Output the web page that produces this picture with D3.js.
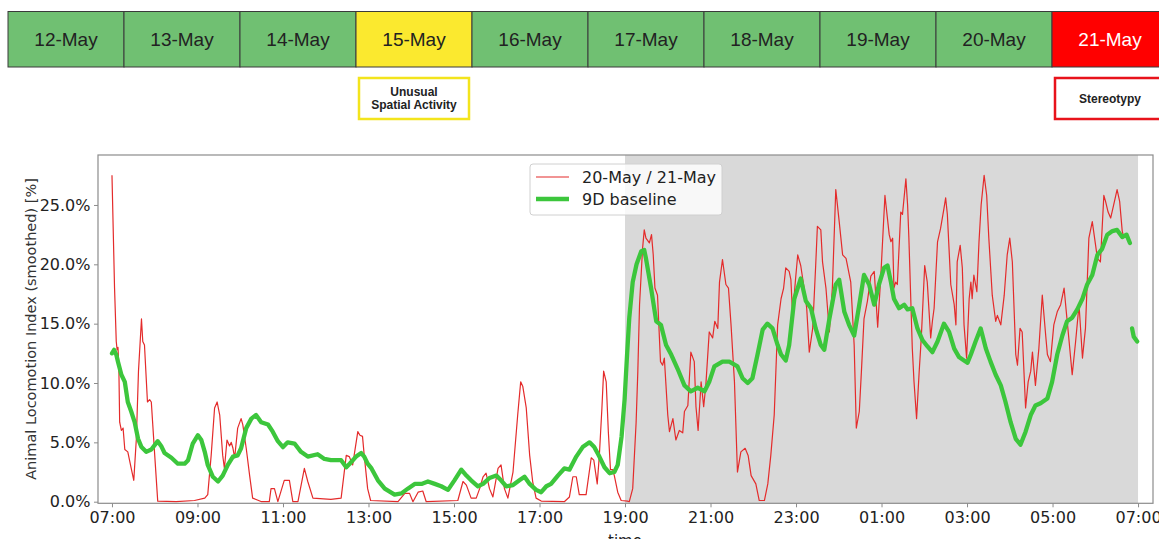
<!DOCTYPE html>
<html>
<head>
<meta charset="utf-8">
<script src="https://cdn.jsdelivr.net/npm/d3@7"></script>
<style>
  body { margin: 0; background: #fff; }
  svg { display: block; }
</style>
</head>
<body>
<svg id="chart" width="1159" height="539"></svg>
<script>
// day strip on top
const days = ["12-May","13-May","14-May","15-May","16-May","17-May","18-May","19-May","20-May","21-May"];
const dayState = ["ok","ok","ok","unusual","ok","ok","ok","ok","ok","alert"];
const stateFill = {ok: "#70c072", unusual: "#fbe92f", alert: "#ff0000"};
const notes = [
  {day: "15-May", lines: ["Unusual", "Spatial Activity"], kind: "unusual"},
  {day: "21-May", lines: ["Stereotypy"], kind: "alert"}
];

// hours after 07:00 on 20-May, value in %
const observed = [
[0.00,27.5],[0.06,18.0],[0.10,13.5],[0.12,12.8],[0.14,13.0],[0.16,11.5],[0.18,6.7],[0.22,6.0],[0.26,6.2],[0.30,4.4],
[0.37,4.2],[0.45,2.8],[0.51,1.8],[0.57,5.3],[0.62,11.0],[0.69,15.4],[0.72,13.5],[0.76,13.2],[0.83,8.4],[0.88,8.6],
[0.92,8.4],[1.00,3.9],[1.07,0.05],[1.50,0.0],[1.93,0.1],[2.17,0.3],[2.24,0.6],[2.32,3.9],[2.40,7.9],[2.46,8.4],
[2.52,7.3],[2.59,3.9],[2.63,2.8],[2.69,5.2],[2.75,4.7],[2.79,5.0],[2.83,4.5],[2.87,3.7],[2.94,6.2],[3.02,7.0],
[3.06,6.5],[3.14,4.5],[3.22,2.2],[3.29,0.3],[3.50,0.0],[3.68,0.0],[3.72,1.1],[3.80,1.1],[3.88,0.0],[4.03,1.8],
[4.15,1.8],[4.23,0.0],[4.35,0.0],[4.50,2.8],[4.58,1.7],[4.70,0.3],[5.12,0.2],[5.36,0.3],[5.48,3.9],[5.55,3.8],
[5.63,3.1],[5.75,5.9],[5.80,5.6],[5.86,5.5],[5.90,3.9],[5.98,1.1],[6.05,0.1],[6.69,0.0],[6.85,0.7],[6.96,0.7],
[7.04,0.0],[7.16,0.8],[7.27,0.9],[7.35,0.0],[8.09,0.1],[8.21,1.7],[8.29,1.4],[8.40,0.3],[8.52,0.3],[8.60,1.1],
[8.68,2.1],[8.75,2.4],[8.83,1.1],[8.91,0.4],[9.03,2.8],[9.10,3.1],[9.18,1.1],[9.26,0.3],[9.38,2.5],[9.49,7.3],
[9.56,10.1],[9.61,9.7],[9.69,7.9],[9.77,3.9],[9.84,1.7],[9.92,0.3],[10.04,0.05],[10.58,0.0],[10.70,0.4],[10.78,2.1],
[10.86,2.1],[10.93,0.6],[11.09,0.6],[11.21,3.7],[11.27,3.5],[11.35,1.5],[11.40,3.9],[11.46,7.9],[11.50,11.0],[11.56,10.1],
[11.61,5.9],[11.66,2.7],[11.71,2.7],[11.75,2.2],[11.83,0.8],[11.91,0.1],[12.06,0.05],[12.10,0.0],[12.18,1.1],[12.26,6.7],
[12.30,11.0],[12.34,16.6],[12.41,21.3],[12.45,22.9],[12.49,22.2],[12.57,21.8],[12.62,22.5],[12.66,20.8],[12.70,18.0],[12.76,17.4],
[12.83,11.8],[12.88,11.5],[12.92,12.1],[13.00,7.3],[13.04,5.9],[13.12,7.0],[13.19,5.2],[13.27,6.0],[13.35,5.8],[13.39,7.6],
[13.47,8.1],[13.54,12.6],[13.62,11.8],[13.66,8.0],[13.71,6.0],[13.78,10.1],[13.84,8.0],[13.89,9.8],[13.97,14.3],[14.05,13.8],
[14.10,15.2],[14.17,14.6],[14.21,18.5],[14.28,20.4],[14.36,18.3],[14.42,18.0],[14.48,14.9],[14.56,10.1],[14.63,2.5],[14.71,4.2],
[14.81,4.5],[14.88,3.9],[14.95,2.2],[15.06,1.5],[15.14,0.1],[15.26,0.1],[15.34,1.5],[15.41,3.9],[15.49,7.3],[15.57,14.9],
[15.65,17.1],[15.71,18.0],[15.76,19.7],[15.84,19.4],[15.88,18.7],[15.92,15.7],[15.99,18.8],[16.04,20.8],[16.11,19.9],[16.19,18.0],
[16.25,16.3],[16.31,12.6],[16.39,14.6],[16.46,19.9],[16.50,23.2],[16.58,22.9],[16.62,20.2],[16.70,18.0],[16.78,14.3],[16.85,18.0],
[16.93,26.3],[17.01,23.6],[17.09,20.8],[17.17,20.5],[17.28,18.5],[17.36,13.2],[17.41,6.2],[17.48,7.6],[17.53,11.0],[17.59,15.4],
[17.67,16.9],[17.75,19.0],[17.83,19.4],[17.91,14.7],[17.98,18.8],[18.08,25.8],[18.18,22.5],[18.22,21.9],[18.26,22.2],[18.29,18.0],
[18.33,18.5],[18.37,18.3],[18.45,24.4],[18.49,24.2],[18.57,27.2],[18.61,25.0],[18.64,22.2],[18.72,12.9],[18.76,10.1],[18.82,7.0],
[18.88,10.9],[18.93,13.8],[19.01,19.9],[19.07,18.5],[19.15,13.8],[19.19,15.2],[19.23,16.3],[19.31,21.9],[19.38,23.0],[19.46,24.7],
[19.50,25.6],[19.54,24.2],[19.62,18.3],[19.70,16.6],[19.74,14.9],[19.77,20.2],[19.84,21.6],[19.89,19.7],[19.93,14.9],[19.99,12.1],
[20.05,17.1],[20.09,18.5],[20.12,17.1],[20.16,19.1],[20.23,17.7],[20.28,21.9],[20.33,25.0],[20.40,27.5],[20.46,25.8],[20.51,22.2],
[20.59,17.4],[20.67,15.2],[20.71,15.7],[20.79,14.9],[20.87,17.4],[20.94,20.8],[21.00,22.2],[21.06,20.2],[21.14,12.4],[21.18,11.5],
[21.24,14.6],[21.29,14.3],[21.37,7.9],[21.43,10.1],[21.49,11.0],[21.53,12.6],[21.60,9.8],[21.68,12.9],[21.76,17.4],[21.84,14.0],
[21.88,12.4],[21.95,11.8],[22.03,14.9],[22.11,16.0],[22.19,16.6],[22.27,18.0],[22.33,15.7],[22.38,13.8],[22.46,10.7],[22.54,13.5],
[22.62,16.6],[22.70,12.1],[22.77,14.6],[22.85,22.2],[22.93,23.6],[23.05,20.5],[23.12,20.2],[23.20,25.8],[23.24,25.3],[23.30,24.4],
[23.36,23.9],[23.43,25.0],[23.51,26.3],[23.57,25.3],[23.63,22.8],[23.67,22.2]
];

const baseline = [
[0.00,12.5],[0.05,12.8],[0.10,12.4],[0.14,11.8],[0.22,10.7],[0.30,10.1],[0.37,8.4],[0.45,7.6],[0.53,6.7],[0.61,5.3],
[0.69,4.6],[0.80,4.2],[0.92,4.4],[1.07,5.1],[1.15,4.7],[1.23,4.1],[1.39,3.7],[1.54,3.2],[1.70,3.2],[1.78,3.5],
[1.89,4.9],[2.01,5.6],[2.09,5.2],[2.17,4.2],[2.24,3.1],[2.36,2.1],[2.48,1.7],[2.59,2.2],[2.71,3.1],[2.83,3.8],
[2.94,3.9],[3.02,4.5],[3.14,6.2],[3.26,7.0],[3.37,7.3],[3.49,6.7],[3.65,6.5],[3.76,5.9],[3.88,5.1],[4.00,4.6],
[4.11,5.0],[4.27,4.9],[4.42,4.2],[4.58,3.8],[4.81,4.0],[4.97,3.6],[5.12,3.5],[5.36,3.5],[5.48,2.9],[5.56,3.2],
[5.71,3.8],[5.83,4.1],[5.90,3.8],[5.98,3.2],[6.07,2.8],[6.22,1.8],[6.38,1.1],[6.61,0.6],[6.77,0.7],[6.92,1.1],
[7.08,1.5],[7.24,1.5],[7.39,1.7],[7.55,1.5],[7.70,1.3],[7.86,1.0],[8.01,1.8],[8.17,2.7],[8.29,2.2],[8.40,1.8],
[8.56,1.3],[8.68,1.5],[8.83,2.0],[8.99,2.2],[9.10,1.8],[9.22,1.3],[9.38,1.4],[9.53,1.8],[9.65,2.1],[9.77,1.5],
[9.92,1.0],[10.04,0.8],[10.16,1.3],[10.27,1.5],[10.43,2.2],[10.58,2.8],[10.70,2.7],[10.86,3.8],[11.01,4.6],[11.17,5.0],
[11.28,4.6],[11.40,3.8],[11.52,2.9],[11.64,2.4],[11.75,2.5],[11.83,3.1],[11.92,5.5],[11.99,8.6],[12.05,12.5],[12.10,15.5],
[12.18,18.5],[12.27,20.0],[12.38,21.1],[12.45,21.2],[12.49,20.5],[12.61,18.0],[12.73,15.2],[12.84,14.9],[12.96,13.2],[13.08,12.4],
[13.23,11.2],[13.39,9.8],[13.54,9.3],[13.70,9.6],[13.86,9.3],[13.97,10.1],[14.09,11.4],[14.28,11.8],[14.44,11.8],[14.63,11.4],
[14.75,10.4],[14.87,10.0],[14.98,10.4],[15.10,12.4],[15.22,14.5],[15.33,15.0],[15.45,14.6],[15.57,13.2],[15.65,12.4],[15.76,11.9],
[15.84,13.2],[15.96,17.1],[16.11,18.8],[16.23,16.9],[16.35,16.3],[16.46,14.6],[16.58,13.2],[16.66,12.8],[16.78,15.4],[16.93,18.3],
[17.01,18.7],[17.13,16.0],[17.24,14.9],[17.36,14.0],[17.48,16.6],[17.59,19.1],[17.71,18.3],[17.83,16.6],[17.94,18.3],[18.06,19.7],
[18.14,19.9],[18.22,18.5],[18.29,17.1],[18.41,16.3],[18.53,16.6],[18.61,16.2],[18.72,16.3],[18.84,14.6],[18.96,13.6],[19.07,13.1],
[19.19,12.6],[19.31,13.5],[19.46,15.0],[19.58,14.3],[19.70,12.9],[19.81,12.2],[19.93,11.9],[20.01,11.7],[20.09,12.4],[20.20,13.5],
[20.32,14.6],[20.44,12.9],[20.55,11.8],[20.67,10.7],[20.79,9.8],[20.90,8.4],[21.02,6.7],[21.14,5.3],[21.25,4.8],[21.37,5.9],
[21.49,7.3],[21.60,8.1],[21.72,8.3],[21.88,8.7],[21.99,10.1],[22.11,12.4],[22.23,14.0],[22.34,15.2],[22.46,15.5],[22.58,16.2],
[22.70,17.1],[22.81,18.3],[22.93,19.1],[23.05,20.8],[23.16,21.3],[23.28,22.5],[23.40,22.8],[23.51,22.9],[23.63,22.3],[23.73,22.5],
[23.81,21.8],[23.84,null],[23.86,14.6],[23.90,13.9],[23.98,13.5]
];

const yTicks = [0, 5, 10, 15, 20, 25];
const xTickHours = [0, 2, 4, 6, 8, 10, 12, 14, 16, 18, 20, 22, 24];
const night = [12, 24]; // 19:00 -> 07:00
const seriesNames = ["20-May / 21-May", "9D baseline"];

const svg = d3.select("#chart");
const base = new Date(2019, 4, 20, 7, 0);
const toDate = h => new Date(base.getTime() + h * 3600e3);

// ---------- day strip ----------
const band = d3.scaleBand().domain(days).range([8, 8 + 116 * days.length]);

const strip = svg.append("g");
strip.selectAll("rect").data(days).enter().append("rect")
  .attr("x", d => band(d)).attr("y", 11.5)
  .attr("width", band.bandwidth()).attr("height", 55.5)
  .attr("fill", (d, i) => stateFill[dayState[i]])
  .attr("stroke", "#3a3a3a").attr("stroke-width", 1);
strip.selectAll("text").data(days).enter().append("text")
  .attr("x", d => band(d) + band.bandwidth() / 2).attr("y", 39)
  .attr("text-anchor", "middle").attr("dominant-baseline", "central")
  .attr("font-family", "Liberation Sans, Arial, sans-serif").attr("font-size", 19)
  .attr("fill", (d, i) => dayState[i] == "alert" ? "#fff" : "#222")
  .text(d => d);

const borderCol = {unusual: "#f3e41c", alert: "#e8131b"};
notes.forEach(n => {
  const cx = band(n.day) + band.bandwidth() / 2;
  svg.append("rect")
    .attr("x", cx - 55).attr("y", 78).attr("width", 110).attr("height", 41)
    .attr("fill", "#fff").attr("stroke", borderCol[n.kind]).attr("stroke-width", 2.5);
  const t = svg.append("text")
    .attr("text-anchor", "middle")
    .attr("font-family", "Liberation Sans, Arial, sans-serif")
    .attr("font-size", 12).attr("font-weight", "bold").attr("fill", "#222");
  const y0 = 98.5 - (n.lines.length - 1) * 6.5;
  n.lines.forEach((l, i) => {
    t.append("tspan").attr("x", cx).attr("y", y0 + i * 13)
      .attr("dominant-baseline", "central").text(l);
  });
});

// ---------- chart ----------
const x = d3.scaleTime().domain([toDate(-0.327), toDate(24.35)]).range([98, 1153]);
const y = d3.scaleLinear().domain([-0.135, 29.21]).range([503.3, 155]);

svg.append("rect")
  .attr("x", x(toDate(night[0]))).attr("y", 155)
  .attr("width", x(toDate(night[1])) - x(toDate(night[0])))
  .attr("height", 503.3 - 155)
  .attr("fill", "#d9d9d9");

const line = d3.line()
  .defined(d => d[1] != null)
  .x(d => x(toDate(d[0])))
  .y(d => y(d[1]));

svg.append("path").datum(observed)
  .attr("d", line).attr("fill", "none")
  .attr("stroke", "#e42b2b").attr("stroke-width", 1.2)
  .attr("stroke-linejoin", "round");

svg.append("path").datum(baseline)
  .attr("d", line).attr("fill", "none")
  .attr("stroke", "#3cc63c").attr("stroke-width", 4.3)
  .attr("stroke-linejoin", "round").attr("stroke-linecap", "round");

// frame
svg.append("rect").attr("x", 98).attr("y", 155)
  .attr("width", 1153 - 98).attr("height", 503.3 - 155)
  .attr("fill", "none").attr("stroke", "#8c8c8c").attr("stroke-width", 1.2);

const xAxis = svg.append("g").attr("transform", "translate(0,503.3)")
  .call(d3.axisBottom(x).tickValues(xTickHours.map(toDate))
    .tickFormat(d3.timeFormat("%H:%M")).tickSize(4).tickPadding(4.3));
const yAxis = svg.append("g").attr("transform", "translate(98,0)")
  .call(d3.axisLeft(y).tickValues(yTicks)
    .tickFormat(d => d.toFixed(1) + "%").tickSize(4).tickPadding(3.5));

[xAxis, yAxis].forEach(a => {
  a.select(".domain").remove();
  a.selectAll(".tick line").attr("stroke", "#8c8c8c");
  a.selectAll(".tick text")
    .attr("font-family", "DejaVu Sans, sans-serif").attr("font-size", 16).attr("fill", "#222");
});

svg.append("text")
  .attr("transform", "translate(36,329) rotate(-90)")
  .attr("text-anchor", "middle")
  .attr("font-family", "DejaVu Sans, sans-serif").attr("font-size", 14.5).attr("fill", "#333")
  .text("Animal Locomotion Index (smoothed) [%]");

svg.append("text")
  .attr("x", 625).attr("y", 546).attr("text-anchor", "middle")
  .attr("font-family", "DejaVu Sans, sans-serif").attr("font-size", 15).attr("fill", "#222")
  .text("time");

// legend
const leg = svg.append("g");
leg.append("rect").attr("x", 530).attr("y", 164).attr("width", 192).attr("height", 51)
  .attr("rx", 3).attr("fill", "#fff").attr("fill-opacity", 0.8)
  .attr("stroke", "#d0d0d0").attr("stroke-width", 1);
const legStyle = [{c: "#e42b2b", w: 1.2}, {c: "#3cc63c", w: 4.3}];
seriesNames.forEach((name, i) => {
  const ly = 177 + i * 22;
  leg.append("line").attr("x1", 536).attr("x2", 569).attr("y1", ly).attr("y2", ly)
    .attr("stroke", legStyle[i].c).attr("stroke-width", legStyle[i].w);
  leg.append("text").attr("x", 582).attr("y", ly).attr("dominant-baseline", "central")
    .attr("font-family", "DejaVu Sans, sans-serif").attr("font-size", 16).attr("fill", "#222")
    .text(name);
});
</script>
</body>
</html>
